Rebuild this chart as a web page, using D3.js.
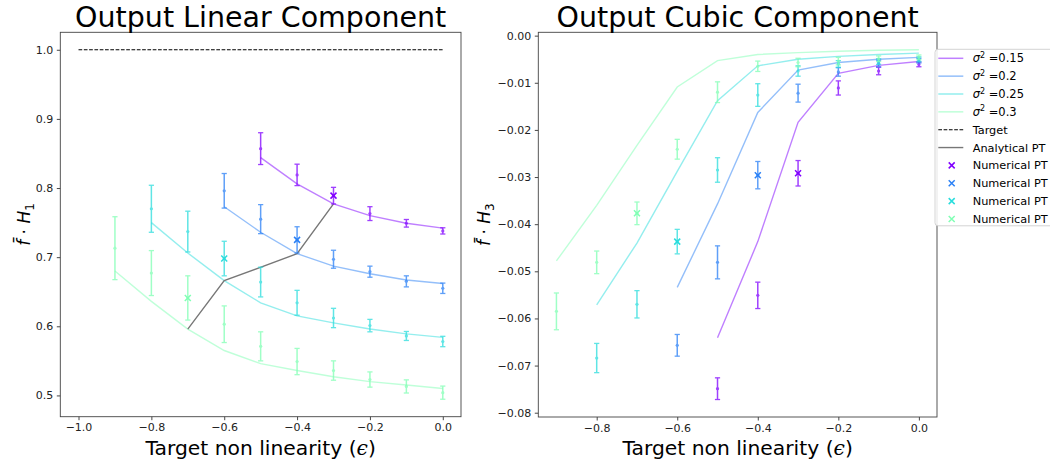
<!DOCTYPE html>
<html><head><meta charset="utf-8">
<script src="https://cdn.jsdelivr.net/npm/d3@7"></script>
<style>
body{margin:0;background:#fff;}
svg{display:block;}
text{font-family:"DejaVu Sans",sans-serif;}
</style>
</head><body>
<svg id="c" width="1050" height="466"></svg>
<script>
// ---------------- data ----------------
const eps = [-0.9, -0.8, -0.7, -0.6, -0.5, -0.4, -0.3, -0.2, -0.1, 0.0];
const sigmaLabels = ["0.15", "0.2", "0.25", "0.3"];
const seriesColors = ["#8000ff", "#2a80f6", "#2adddd", "#80ffb4"];
const seriesStartEps = [-0.5, -0.6, -0.8, -0.9];   // first epsilon of each series
const numericalPTEps = [-0.3, -0.4, -0.6, -0.7];   // X markers

// Linear component (left panel)
const targetEps = [-1.0, 0.0];
const targetValue = [1.0, 1.0];
const linAnalytic = [
  [0.844, 0.806, 0.777, 0.760, 0.749, 0.742],
  [0.773, 0.736, 0.705, 0.687, 0.676, 0.667, 0.662],
  [0.750, 0.706, 0.666, 0.634, 0.615, 0.605, 0.596, 0.589, 0.584],
  [0.680, 0.636, 0.596, 0.565, 0.546, 0.536, 0.527, 0.520, 0.515, 0.510]
];
const linNumMean = [
  [0.857, 0.819, 0.789, 0.763, 0.749, 0.738],
  [0.796, 0.755, 0.725, 0.697, 0.679, 0.665, 0.655],
  [0.770, 0.737, 0.698, 0.664, 0.634, 0.612, 0.601, 0.586, 0.578],
  [0.713, 0.677, 0.641, 0.603, 0.571, 0.549, 0.536, 0.523, 0.513, 0.504]
];
const linNumErr = [
  [0.023, 0.0155, 0.012, 0.010, 0.0055, 0.0045],
  [0.025, 0.021, 0.019, 0.013, 0.008, 0.008, 0.0075],
  [0.034, 0.0295, 0.025, 0.0215, 0.018, 0.014, 0.009, 0.0065, 0.0075],
  [0.0455, 0.0325, 0.032, 0.0265, 0.021, 0.019, 0.014, 0.011, 0.0095, 0.0095]
];
const analyticalPTEps = [-0.7, -0.6, -0.4, -0.3];
const analyticalPTValue = [0.596, 0.666, 0.705, 0.777];

// Cubic component (right panel)
const cubAnalytic = [
  [-0.0641, -0.0437, -0.0184, -0.0080, -0.0063, -0.0055],
  [-0.0534, -0.0357, -0.0163, -0.0073, -0.0057, -0.0050, -0.0046],
  [-0.0571, -0.0440, -0.0288, -0.0138, -0.0064, -0.0050, -0.0044, -0.0040, -0.0037],
  [-0.0478, -0.0360, -0.0233, -0.0109, -0.0053, -0.0040, -0.0036, -0.0033, -0.0031, -0.0030]
];
const cubNumMean = [
  [-0.0749, -0.0551, -0.0292, -0.0111, -0.0075, -0.0061],
  [-0.0657, -0.0481, -0.0296, -0.0122, -0.0077, -0.0059, -0.0053],
  [-0.0684, -0.0570, -0.0437, -0.0285, -0.0126, -0.0075, -0.0060, -0.0055, -0.0050],
  [-0.0585, -0.0481, -0.0377, -0.0241, -0.0120, -0.0065, -0.0057, -0.0054, -0.0049, -0.0046]
];
const cubNumErr = [
  [0.0023, 0.0028, 0.0027, 0.0015, 0.0008, 0.0005],
  [0.0023, 0.0035, 0.0029, 0.0019, 0.0009, 0.0007, 0.0005],
  [0.0031, 0.0029, 0.0026, 0.0026, 0.0024, 0.0011, 0.0007, 0.0006, 0.0005],
  [0.0039, 0.0024, 0.0024, 0.0021, 0.0022, 0.0011, 0.0009, 0.0008, 0.0006, 0.0005]
];

const linXTicks = [-1.0, -0.8, -0.6, -0.4, -0.2, 0.0];
const linYTicks = [0.5, 0.6, 0.7, 0.8, 0.9, 1.0];
const cubXTicks = [-0.8, -0.6, -0.4, -0.2, 0.0];
const cubYTicks = [0, -0.01, -0.02, -0.03, -0.04, -0.05, -0.06, -0.07, -0.08];

// ---------------- drawing ----------------
const svg = d3.select("#c");
const pad = e => { const r = e[1] - e[0]; return [e[0] - 0.05 * r, e[1] + 0.05 * r]; };
const xsFor = i => eps.slice(eps.findIndex(e => Math.abs(e - seriesStartEps[i]) < 1e-9));

function panel(cfg) {
  const { box, xDomain, yDomain, xTicks, yTicks, xFmt, yFmt } = cfg;
  const x = d3.scaleLinear().domain(xDomain).range([box.x0, box.x1]);
  const y = d3.scaleLinear().domain(yDomain).range([box.y1, box.y0]);
  const g = svg.append("g");

  const ax = g.append("g").attr("transform", `translate(0,${box.y1})`)
    .call(d3.axisBottom(x).tickValues(xTicks).tickFormat(d3.format(xFmt)).tickSize(3.5).tickPadding(3.5).tickSizeOuter(0));
  const ay = g.append("g").attr("transform", `translate(${box.x0},0)`)
    .call(d3.axisLeft(y).tickValues(yTicks).tickFormat(d3.format(yFmt)).tickSize(3.5).tickPadding(3.5).tickSizeOuter(0));
  [ax, ay].forEach(a => {
    a.select(".domain").remove();
    a.attr("font-family", "DejaVu Sans").attr("font-size", 11);
    a.selectAll("line").attr("stroke", "#333").attr("stroke-width", 0.9);
    a.selectAll("text").attr("fill", "#222");
  });
  g.append("rect").attr("x", box.x0).attr("y", box.y0)
    .attr("width", box.x1 - box.x0).attr("height", box.y1 - box.y0)
    .attr("fill", "none").attr("stroke", "#444").attr("stroke-width", 0.9);

  const cx = (box.x0 + box.x1) / 2;
  g.append("text").attr("x", cx).attr("y", 26.5).attr("text-anchor", "middle")
    .attr("font-size", 28.5).attr("fill", "#000").text(cfg.title);
  const xl = g.append("text").attr("x", cx).attr("y", 455).attr("text-anchor", "middle")
    .attr("font-size", 20.3).attr("fill", "#000");
  xl.append("tspan").text("Target non linearity (");
  xl.append("tspan").attr("font-family", "DejaVu Serif").attr("font-style", "italic").text("\u03F5");
  xl.append("tspan").text(")");

  const yl = g.append("text")
    .attr("transform", `translate(${cfg.ylabX},${(box.y0 + box.y1) / 2}) rotate(-90)`)
    .attr("text-anchor", "middle").attr("font-size", 17).attr("fill", "#000")
    .attr("font-family", "DejaVu Serif");
  yl.append("tspan").attr("font-style", "italic").text("f\u0304");
  yl.append("tspan").text(" \u00B7 ");
  yl.append("tspan").attr("font-style", "italic").text("H");
  yl.append("tspan").attr("font-size", 12).attr("dy", 4).text(cfg.ylabSub);

  return { g, x, y };
}

function drawSeries(p, analytic, mean, err) {
  const line = d3.line().x(d => p.x(d[0])).y(d => p.y(d[1]));
  analytic.forEach((vals, i) => {
    const xs = xsFor(i);
    p.g.append("path").datum(vals.map((v, k) => [xs[k], v]))
      .attr("d", line).attr("fill", "none").attr("stroke", seriesColors[i])
      .attr("stroke-width", 1.4).attr("stroke-opacity", 0.5);
  });
}

function drawErrorbars(p, mean, err) {
  mean.forEach((vals, i) => {
    const xs = xsFor(i);
    const gg = p.g.append("g").attr("stroke", seriesColors[i]).attr("fill", seriesColors[i]).attr("opacity", 0.75);
    vals.forEach((m, k) => {
      const px = p.x(xs[k]), lo = p.y(m - err[i][k]), hi = p.y(m + err[i][k]);
      gg.append("line").attr("x1", px).attr("x2", px).attr("y1", lo).attr("y2", hi).attr("stroke-width", 1.5);
      gg.append("line").attr("x1", px - 2.6).attr("x2", px + 2.6).attr("y1", lo).attr("y2", lo).attr("stroke-width", 1.3);
      gg.append("line").attr("x1", px - 2.6).attr("x2", px + 2.6).attr("y1", hi).attr("y2", hi).attr("stroke-width", 1.3);
      gg.append("circle").attr("cx", px).attr("cy", p.y(m)).attr("r", 1.6).attr("stroke", "none");
    });
  });
  mean.forEach((vals, i) => {
    const xs = xsFor(i);
    const k = xs.findIndex(e => Math.abs(e - numericalPTEps[i]) < 1e-9);
    const px = p.x(xs[k]), py = p.y(vals[k]);
    p.g.append("path").attr("d", `M${px - 3},${py - 3}L${px + 3},${py + 3}M${px - 3},${py + 3}L${px + 3},${py - 3}`)
      .attr("stroke", seriesColors[i]).attr("stroke-width", 1.5).attr("fill", "none");
  });
}

// Left panel
const linLows = linNumMean.flatMap((v, i) => v.map((m, k) => m - linNumErr[i][k]));
const left = panel({
  box: { x0: 60.3, x1: 461, y0: 32.3, y1: 416.7 },
  xDomain: pad([d3.min(targetEps), d3.max(targetEps)]),
  yDomain: pad([d3.min(linLows), d3.max(targetValue)]),
  xTicks: linXTicks, yTicks: linYTicks, xFmt: ".1f", yFmt: ".1f",
  title: "Output Linear Component", ylabX: 29.5, ylabSub: "1"
});
left.g.append("path")
  .datum(targetEps.map((e, k) => [e, targetValue[k]]))
  .attr("d", d3.line().x(d => left.x(d[0])).y(d => left.y(d[1])))
  .attr("stroke", "#000").attr("stroke-width", 1.1).attr("stroke-dasharray", "3.7,1.6").attr("fill", "none");
drawSeries(left, linAnalytic);
left.g.append("path")
  .datum(analyticalPTEps.map((e, k) => [e, analyticalPTValue[k]]))
  .attr("d", d3.line().x(d => left.x(d[0])).y(d => left.y(d[1])))
  .attr("stroke", "#777").attr("stroke-width", 1.4).attr("fill", "none");
drawErrorbars(left, linNumMean, linNumErr);

// Right panel
const cubLows = cubNumMean.flatMap((v, i) => v.map((m, k) => m - cubNumErr[i][k]));
const cubHighs = cubAnalytic.flat().concat(cubNumMean.flatMap((v, i) => v.map((m, k) => m + cubNumErr[i][k])));
const right = panel({
  box: { x0: 538.3, x1: 937, y0: 32.3, y1: 417 },
  xDomain: pad([d3.min(eps), d3.max(eps)]),
  yDomain: pad([d3.min(cubLows), d3.max(cubHighs)]),
  xTicks: cubXTicks, yTicks: cubYTicks, xFmt: ".1f", yFmt: ".2f",
  title: "Output Cubic Component", ylabX: 490, ylabSub: "3"
});
drawSeries(right, cubAnalytic);
drawErrorbars(right, cubNumMean, cubNumErr);

// Legend
const lg = svg.append("g");
lg.append("rect").attr("x", 935).attr("y", 49.3).attr("width", 130).attr("height", 176.5)
  .attr("rx", 3).attr("fill", "#fff").attr("fill-opacity", 0.85).attr("stroke", "#cfcfcf").attr("stroke-width", 0.9);
const rowY = i => 58.3 + i * 17.85;
sigmaLabels.forEach((s, i) => {
  lg.append("line").attr("x1", 938.3).attr("x2", 963.3).attr("y1", rowY(i)).attr("y2", rowY(i))
    .attr("stroke", seriesColors[i]).attr("stroke-opacity", 0.5).attr("stroke-width", 1.5);
  const t = lg.append("text").attr("x", 972.7).attr("y", rowY(i) + 4).attr("font-family", "DejaVu Serif")
    .attr("font-size", 11.5).attr("fill", "#000");
  t.append("tspan").attr("font-style", "italic").text("\u03C3");
  t.append("tspan").attr("font-size", 8).attr("dy", -4.5).text("2");
  t.append("tspan").attr("dy", 4.5).text(" =" + s);
});
lg.append("line").attr("x1", 938.3).attr("x2", 963.3).attr("y1", rowY(4)).attr("y2", rowY(4))
  .attr("stroke", "#000").attr("stroke-width", 1.1).attr("stroke-dasharray", "3.7,1.6");
lg.append("text").attr("x", 972.7).attr("y", rowY(4) + 4).attr("font-size", 11.3).text("Target");
lg.append("line").attr("x1", 938.3).attr("x2", 963.3).attr("y1", rowY(5)).attr("y2", rowY(5))
  .attr("stroke", "#777").attr("stroke-width", 1.4);
lg.append("text").attr("x", 972.7).attr("y", rowY(5) + 4).attr("font-size", 11.3).text("Analytical PT");
seriesColors.forEach((c, i) => {
  const yy = rowY(6 + i), xx = 951.7;
  lg.append("path").attr("d", `M${xx - 3},${yy - 3}L${xx + 3},${yy + 3}M${xx - 3},${yy + 3}L${xx + 3},${yy - 3}`)
    .attr("stroke", c).attr("stroke-width", 1.5).attr("fill", "none");
  lg.append("text").attr("x", 972.7).attr("y", yy + 4).attr("font-size", 11.3).text("Numerical PT");
});
</script>
</body></html>
